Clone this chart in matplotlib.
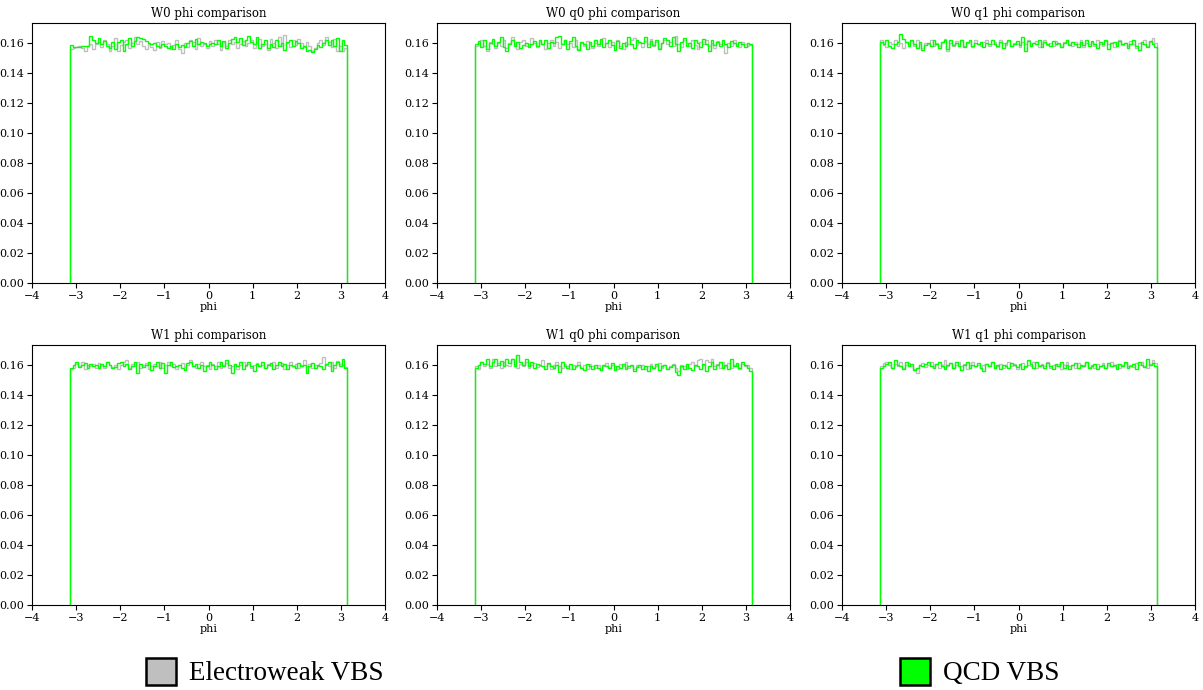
import numpy as np
import matplotlib
matplotlib.use("Agg")
import matplotlib.pyplot as plt
from matplotlib.patches import Patch
from matplotlib.ticker import FormatStrFormatter

# Normalised phi distributions: density per bin (x 1e4), 100 bins over [-pi, pi]
titles = ["W0 phi comparison", "W0 q0 phi comparison", "W0 q1 phi comparison",
          "W1 phi comparison", "W1 q0 phi comparison", "W1 q1 phi comparison"]
xlabel = "phi"
labels = ["Electroweak VBS", "QCD VBS"]
n_bins = 100

ew_w0 = [1560,1565,1576,1584,1566,1550,1580,1596,1560,1592,
         1610,1576,1624,1596,1550,1584,1634,1545,1590,1606,
         1624,1570,1600,1640,1596,1612,1580,1560,1596,1576,
         1556,1606,1570,1616,1592,1604,1560,1586,1620,1564,
         1535,1604,1576,1620,1606,1560,1636,1580,1596,1570,
         1614,1584,1620,1592,1556,1606,1580,1624,1596,1610,
         1566,1596,1616,1580,1600,1624,1570,1606,1630,1580,
         1592,1556,1630,1600,1570,1640,1584,1658,1600,1576,
         1624,1590,1630,1600,1576,1610,1584,1545,1566,1600,
         1624,1590,1640,1606,1576,1628,1550,1580,1545,1570]
qcd_w0 = [1587,1578,1577,1578,1579,1580,1581,1647,1624,1600,
          1632,1592,1616,1580,1570,1606,1560,1608,1624,1545,
          1596,1636,1580,1616,1642,1634,1626,1612,1600,1592,
          1604,1580,1576,1592,1580,1568,1584,1560,1596,1578,
          1590,1576,1600,1616,1584,1626,1596,1608,1600,1580,
          1592,1604,1596,1624,1580,1616,1568,1600,1628,1640,
          1610,1632,1590,1624,1646,1610,1596,1640,1570,1594,
          1620,1568,1596,1576,1624,1580,1604,1556,1608,1624,
          1584,1616,1600,1570,1580,1550,1555,1540,1564,1588,
          1576,1600,1620,1590,1624,1580,1636,1550,1624,1585]

ew_w0q0 = [1580,1600,1624,1580,1550,1610,1596,1570,1600,1584,
           1620,1570,1600,1640,1596,1564,1610,1624,1580,1596,
           1632,1600,1576,1620,1592,1560,1604,1624,1584,1610,
           1570,1596,1620,1592,1604,1576,1624,1560,1600,1584,
           1616,1592,1570,1604,1580,1624,1632,1600,1576,1610,
           1590,1624,1580,1564,1608,1596,1620,1634,1586,1600,
           1576,1612,1596,1630,1580,1608,1568,1600,1624,1596,
           1610,1580,1645,1596,1572,1620,1600,1580,1624,1590,
           1564,1608,1592,1624,1580,1600,1570,1616,1596,1590,
           1535,1604,1580,1624,1596,1572,1608,1592,1580,1588]
qcd_w0q0 = [1596,1616,1576,1624,1560,1600,1630,1580,1608,1640,
            1576,1545,1596,1620,1580,1610,1566,1590,1604,1576,
            1596,1616,1584,1624,1592,1620,1570,1608,1604,1640,
            1647,1596,1624,1560,1616,1640,1580,1552,1610,1596,
            1560,1610,1584,1620,1592,1628,1576,1604,1624,1590,
            1556,1616,1570,1600,1580,1640,1596,1570,1624,1608,
            1600,1640,1576,1612,1586,1624,1560,1600,1636,1620,
            1580,1640,1596,1545,1608,1632,1584,1600,1570,1620,
            1600,1576,1628,1596,1545,1620,1590,1610,1580,1624,
            1596,1572,1612,1600,1584,1608,1596,1576,1604,1598]

ew_w0q1 = [1620,1590,1576,1610,1596,1624,1580,1600,1570,1608,
           1592,1616,1580,1624,1596,1570,1604,1592,1620,1580,
           1600,1584,1610,1628,1545,1600,1584,1616,1592,1624,
           1580,1600,1608,1572,1620,1596,1584,1610,1624,1580,
           1596,1608,1576,1624,1600,1588,1612,1580,1604,1592,
           1576,1608,1592,1620,1584,1600,1612,1576,1596,1624,
           1588,1604,1580,1612,1596,1572,1608,1624,1592,1580,
           1610,1596,1620,1576,1600,1592,1608,1584,1620,1596,
           1580,1612,1592,1600,1576,1608,1624,1590,1600,1580,
           1612,1596,1570,1604,1592,1624,1580,1610,1636,1600]
qcd_w0q1 = [1610,1596,1620,1580,1570,1592,1610,1660,1630,1610,
            1580,1624,1596,1570,1610,1556,1590,1604,1580,1624,
            1596,1570,1608,1620,1560,1624,1590,1600,1584,1620,
            1576,1606,1624,1580,1600,1592,1610,1576,1604,1592,
            1620,1596,1580,1610,1570,1600,1624,1580,1596,1616,
            1590,1640,1545,1616,1580,1604,1592,1620,1576,1608,
            1596,1584,1616,1592,1604,1576,1600,1624,1588,1608,
            1596,1572,1606,1588,1620,1580,1612,1596,1570,1606,
            1592,1620,1564,1600,1608,1584,1616,1592,1604,1570,
            1596,1624,1580,1552,1608,1596,1576,1612,1592,1572]

ew_w1 = [1575,1580,1610,1596,1624,1576,1600,1592,1608,1580,
         1612,1596,1580,1624,1600,1588,1604,1572,1600,1624,
         1636,1580,1608,1596,1620,1584,1600,1612,1576,1596,
         1608,1592,1620,1580,1600,1624,1592,1608,1576,1600,
         1616,1588,1604,1632,1596,1580,1608,1624,1592,1600,
         1576,1608,1596,1620,1584,1600,1612,1580,1596,1608,
         1576,1600,1624,1592,1608,1580,1600,1616,1592,1604,
         1580,1608,1596,1624,1584,1600,1612,1576,1600,1624,
         1596,1608,1580,1600,1632,1592,1608,1580,1604,1596,
         1612,1652,1600,1592,1624,1580,1630,1608,1600,1590]
qcd_w1 = [1580,1600,1624,1590,1604,1616,1580,1610,1596,1600,
          1584,1610,1596,1620,1604,1580,1590,1616,1624,1592,
          1608,1576,1596,1624,1548,1610,1588,1604,1624,1570,
          1596,1624,1580,1612,1548,1600,1624,1590,1596,1604,
          1580,1570,1612,1624,1596,1608,1584,1600,1560,1596,
          1620,1604,1572,1592,1624,1596,1636,1600,1550,1608,
          1592,1620,1576,1600,1624,1592,1560,1608,1596,1620,
          1584,1600,1612,1572,1600,1624,1592,1608,1576,1600,
          1596,1584,1616,1592,1604,1548,1596,1612,1580,1604,
          1596,1572,1608,1620,1560,1600,1624,1596,1640,1582]

ew_w1q0 = [1596,1576,1620,1592,1608,1580,1640,1596,1612,1580,
           1624,1600,1592,1640,1608,1580,1610,1596,1620,1584,
           1600,1612,1588,1604,1636,1592,1608,1576,1600,1624,
           1592,1580,1608,1596,1576,1604,1592,1620,1584,1600,
           1576,1608,1592,1580,1604,1570,1596,1612,1580,1600,
           1592,1576,1608,1592,1620,1580,1596,1572,1604,1588,
           1600,1576,1592,1608,1580,1596,1612,1584,1600,1576,
           1592,1608,1580,1564,1600,1592,1576,1608,1624,1592,
           1632,1638,1600,1636,1624,1640,1596,1608,1580,1624,
           1596,1612,1580,1604,1592,1576,1608,1596,1604,1580]
qcd_w1q0 = [1580,1600,1624,1608,1640,1596,1620,1640,1604,1630,
            1596,1640,1616,1640,1592,1665,1624,1600,1640,1596,
            1620,1580,1610,1600,1592,1576,1612,1596,1580,1604,
            1556,1620,1592,1580,1608,1572,1596,1604,1580,1570,
            1608,1592,1576,1600,1584,1570,1604,1592,1580,1612,
            1568,1596,1584,1608,1576,1592,1600,1564,1588,1604,
            1576,1592,1560,1596,1580,1608,1568,1592,1604,1576,
            1588,1600,1556,1535,1592,1576,1608,1584,1568,1600,
            1592,1576,1608,1560,1596,1620,1572,1600,1624,1580,
            1604,1576,1640,1596,1612,1580,1624,1604,1580,1560]

ew_w1q1 = [1592,1612,1624,1600,1580,1608,1596,1620,1584,1600,
           1612,1592,1576,1550,1600,1616,1588,1604,1624,1592,
           1608,1580,1600,1636,1596,1612,1584,1600,1624,1592,
           1608,1576,1600,1620,1592,1604,1580,1600,1608,1592,
           1620,1584,1596,1608,1580,1600,1624,1592,1608,1576,
           1600,1612,1588,1604,1592,1620,1580,1600,1608,1596,
           1624,1584,1600,1592,1608,1576,1600,1620,1592,1604,
           1580,1612,1596,1600,1624,1588,1604,1580,1608,1596,
           1612,1584,1600,1624,1592,1608,1580,1600,1616,1592,
           1604,1588,1612,1600,1624,1592,1580,1608,1636,1616]
qcd_w1q1 = [1580,1596,1610,1620,1584,1635,1604,1596,1576,1620,
            1592,1608,1570,1584,1600,1592,1610,1624,1596,1580,
            1608,1624,1592,1576,1600,1612,1580,1624,1596,1570,
            1604,1624,1580,1600,1592,1616,1580,1560,1608,1596,
            1620,1584,1600,1576,1604,1592,1580,1616,1600,1588,
            1608,1576,1596,1634,1608,1580,1624,1596,1604,1584,
            1612,1592,1576,1608,1596,1620,1584,1600,1572,1604,
            1616,1584,1600,1592,1624,1580,1596,1608,1576,1592,
            1604,1580,1616,1592,1600,1576,1608,1596,1624,1580,
            1596,1610,1576,1624,1600,1588,1640,1604,1612,1596]

ew_series = [ew_w0, ew_w0q0, ew_w0q1, ew_w1, ew_w1q0, ew_w1q1]
qcd_series = [qcd_w0, qcd_w0q0, qcd_w0q1, qcd_w1, qcd_w1q0, qcd_w1q1]

EW_COLOR = "#bfbfbf"
QCD_COLOR = "#00ff00"

plt.rcParams["font.family"] = "DejaVu Serif"
plt.rcParams["font.size"] = 8

fig, axes = plt.subplots(2, 3, figsize=(12.03, 6.90), dpi=100)
fig.subplots_adjust(left=0.0266, right=0.9934, top=0.9667, bottom=0.1232,
                    wspace=0.147, hspace=0.238)

edges = np.linspace(-np.pi, np.pi, n_bins + 1)

for ax, title, ew, qcd in zip(axes.flat, titles, ew_series, qcd_series):
    ax.stairs(np.asarray(ew) / 1e4, edges, color=EW_COLOR, linewidth=1.0, baseline=0)
    ax.stairs(np.asarray(qcd) / 1e4, edges, color=QCD_COLOR, linewidth=1.0, baseline=0)
    ax.set_xlim(-4, 4)
    ax.set_xticks(np.arange(-4, 5, 1))
    ax.set_ylim(0, 0.1735)
    ax.set_yticks(np.arange(0, 0.161, 0.02))
    ax.yaxis.set_major_formatter(FormatStrFormatter("%.2f"))
    ax.set_title(title, fontsize=8.5, pad=4)
    ax.set_xlabel(xlabel, fontsize=8, labelpad=1)
    ax.tick_params(labelsize=8, length=3.5, pad=2)

legend_font = {"family": "Liberation Serif", "size": 19.5}
legend_kw = dict(loc="center", frameon=False, prop=legend_font,
                 handlelength=1.1, handleheight=1.15, handletextpad=0.48,
                 borderpad=0, borderaxespad=0)
fig.legend(handles=[Patch(facecolor=EW_COLOR, edgecolor="black", linewidth=1.8,
                          label=labels[0])],
           bbox_to_anchor=(0.22, 0.026), **legend_kw)
fig.legend(handles=[Patch(facecolor=QCD_COLOR, edgecolor="black", linewidth=1.8,
                          label=labels[1])],
           bbox_to_anchor=(0.8146, 0.026), **legend_kw)

fig.savefig("out.png", dpi=100)
